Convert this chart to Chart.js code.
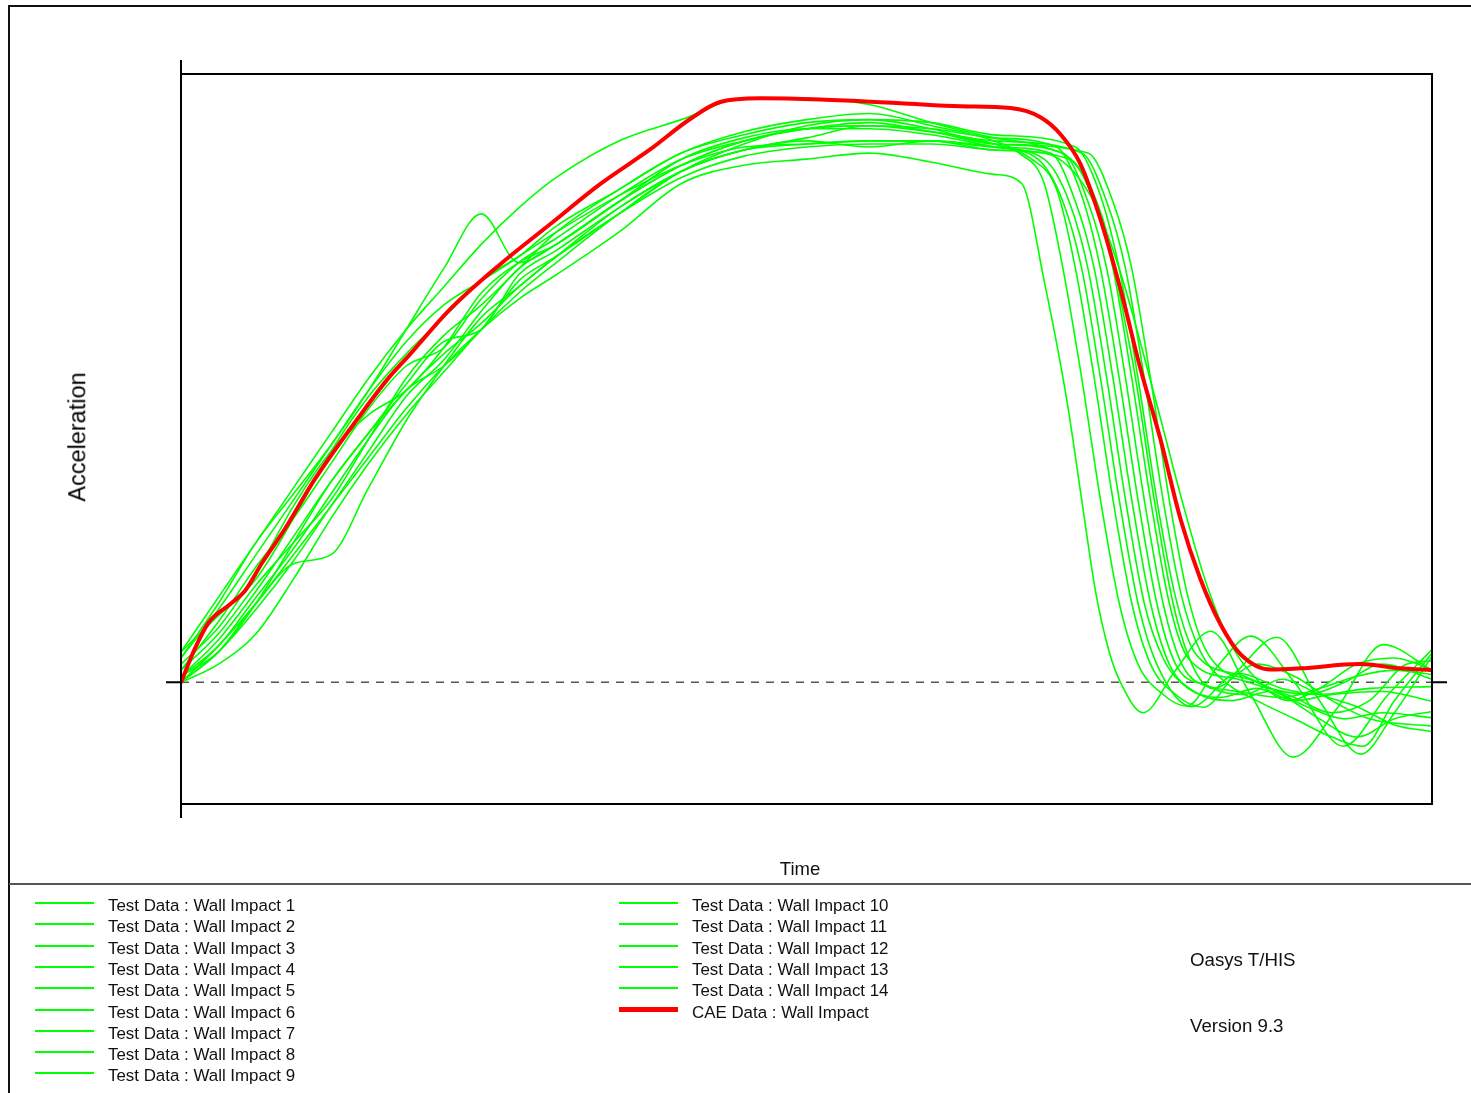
<!DOCTYPE html>
<html>
<head>
<meta charset="utf-8">
<title>Wall Impact - Acceleration vs Time</title>
<script src="https://cdn.jsdelivr.net/npm/chart.js@4.4.1/dist/chart.umd.min.js"></script>
<style>
    body {
        margin: 0;
        background: #fff;
        width: 1471px;
        height: 1093px;
        position: relative;
        overflow: hidden;
        font-family: "Liberation Sans", Arial, sans-serif;
        color: #111;
    }
    #pageFrame {
        position: absolute;
        left: 8px;
        top: 5px;
        width: 1480px;
        height: 1100px;
        border-top: 2px solid #111;
        border-left: 2px solid #111;
    }
    #separator {
        position: absolute;
        left: 9px;
        top: 883px;
        width: 1470px;
        border-top: 2px solid #555;
    }
    #chart {
        position: absolute;
        left: 0;
        top: 0;
    }
    .axis-title {
        position: absolute;
        white-space: nowrap;
        line-height: 1;
    }
    #yTitle {
        left: 78px;
        top: 437px;
        font-size: 23.5px;
        color: #000;
        transform: translate(-50%, -50%) rotate(-90deg);
    }
    #xTitle {
        left: 800px;
        top: 869px;
        font-size: 18.5px;
        transform: translate(-50%, -50%);
    }
    .legend-row {
        position: absolute;
        height: 20px;
        font-size: 16.9px;
        line-height: 20px;
        white-space: nowrap;
    }
    .legend-row .swatch {
        position: absolute;
        left: 0;
        width: 59px;
    }
    .legend-row .label {
        position: absolute;
    }
    .note {
        position: absolute;
        font-size: 18.7px;
        line-height: 20px;
        white-space: nowrap;
    }
</style>
</head>
<body>
<div id="pageFrame"></div>
<div id="separator"></div>
<canvas id="chart" width="1471" height="1093"></canvas>
<div class="axis-title" id="yTitle">Acceleration</div>
<div class="axis-title" id="xTitle">Time</div>
<div id="legend"></div>
<div class="note" style="left:1190px; top:950px;">Oasys T/HIS</div>
<div class="note" style="left:1190px; top:1016px;">Version 9.3</div>

<script>
// ---- data ----
// time axis runs 0..100, acceleration -20..100 (no tick labels in the original)

// shared time points for the rising part of the test curves
const riseTime = [0, 3, 6, 9, 12, 15, 18, 21, 24, 27, 30, 35, 40, 45, 50, 55, 60, 65];

const impact1Rise = [5, 14, 23, 32, 41, 50, 58, 65, 72, 78, 83, 89, 92.5, 96, 96, 95, 92, 89.5];
const impact1Fall = [[69, 88], [72, 84], [74, 74], [75.2, 62], [76.3, 50], [77.8, 30], [79.3, 13], [80.8, 3], [82.5, -1], [86, 3], [89, 1], [92, -3], [95, -6], [100, -7.2]];

const impact2Rise = [4, 12, 21, 30, 39, 48, 56, 62, 66, 70, 75, 81, 87, 90.5, 92.5, 93.5, 91.5, 89];
const impact2Fall = [[67, 87], [69, 82], [70.5, 68], [72, 50], [73.5, 30], [75, 13], [76.5, 3], [78.5, -2], [80.4, -3.9], [83, 3], [85.5, 7.6], [89, 0], [92.9, -10.5], [96.5, -2], [100, 5.4]];

const impact3Rise = [2, 10, 19, 27, 36, 45, 52, 55, 63, 69, 73, 80, 86, 89, 91, 92, 90.5, 88.5];
const impact3Fall = [[68, 86], [70, 81], [71.5, 68], [73, 50], [74.5, 30], [76, 13], [77.5, 3], [79.5, -2], [81.7, -4.1], [84.5, 2], [87.6, 7.4], [91, -3], [94.3, -11.8], [97, -5], [100, 4.3]];

const impact4Rise = [5, 11, 17, 27, 38, 47, 54, 60, 66, 70, 74, 80, 85, 88, 88.5, 89, 89, 88];
const impact4Fall = [[69, 86], [71, 79], [72.5, 68], [74, 50], [75.5, 30], [77, 13], [78.5, 4], [80.5, -1], [83, -2.5], [86, -1], [89, -3], [92, -2], [96, -1.5], [100, -3.1]];

const impact5Rise = [1, 7, 15, 24, 33, 41, 49, 56, 58, 67, 71, 78, 84, 87.5, 89, 88, 89, 88];
const impact5Fall = [[69.5, 87], [71.5, 79], [73, 68], [74.5, 50], [76, 30], [77.5, 13], [79, 3], [81, -1.5], [84, -3], [87, -1.5], [90, -4], [93, -6], [96, -5], [100, -5.8]];

const impact6Rise = [0, 5, 12, 20, 29, 38, 47, 53, 61, 68, 72, 79, 85, 89, 91, 91.5, 91, 89.5];
const impact6Fall = [[70, 88], [72, 80], [73.5, 68], [75, 50], [76.5, 30], [78, 13], [79.5, 3], [82, -0.5], [84.5, -1.5], [88, -2.5], [91, -1], [94, 1], [97, 2], [100, 1.3]];

const impact7Rise = [3, 9, 18, 29, 38, 44, 48, 55, 64, 69, 72, 79, 86, 89.5, 91, 91, 90, 88];
const impact7Fall = [[68.5, 86], [70.5, 79], [72, 68], [73.5, 50], [75, 30], [76.5, 13], [78, 3], [80.8, -4], [84.5, 1.5], [88, -1], [91, -2], [95, -1], [100, -0.7]];

const impact8Rise = [1, 6, 14, 22, 31, 40, 48, 52, 58, 66, 70, 77, 84, 88.5, 91.5, 92.5, 91, 88.5];
const impact8Fall = [[70.5, 87], [72.5, 79], [74, 68], [75.5, 50], [77, 30], [78.5, 13], [80, 3], [82.5, -1], [85, -2], [88, 0.5], [91, -2], [94, -4], [97, -7], [100, -8.1]];

const impact9Rise = [0, 5, 13, 19.5, 21, 32, 43, 52, 60, 65, 70, 77, 83, 86.5, 88, 88.5, 88.5, 87.5];
const impact9Fall = [[71, 86], [73, 79], [74.5, 68], [76, 50], [77.5, 30], [79, 13], [80.5, 4], [84.5, 0.5], [87, -1], [90, -2], [93, 0], [96, 3], [100, 0.5]];

const impact10Rise = [2, 8, 16, 23, 30, 40, 50, 57, 62, 68, 74, 81, 87, 90, 92, 92.5, 92, 90];
const impact10Fall = [[71.5, 88], [73.5, 80], [75, 68], [76.5, 50], [78, 30], [79.5, 14], [81, 5], [85, 1], [88, -2], [91, -6], [94, -9], [97, -6], [100, -4.8]];

const impact11Rise = [0, 3, 8, 17, 27, 36, 44, 51, 58, 64, 69, 77, 84, 87.5, 89.5, 91.5, 90.5, 89];
const impact11Fall = [[72, 87], [74, 79], [75.5, 68], [77, 50], [78.5, 30], [80, 14], [81.5, 5], [83.5, 0], [86, -3], [89, -6], [92, -9], [94.5, -10.5], [97, -3], [100, 4.8]];

const impact12Rise = [4, 13, 23, 31, 39, 48, 58, 68, 77, 69, 72, 79, 85, 89, 91, 91.5, 90.5, 88.5];
const impact12Fall = [[72.5, 87], [74.5, 79], [76, 68], [77.5, 50], [79, 30], [80.5, 14], [82, 5], [86, 0], [89, -2.5], [92, -5], [95, -3], [98, 3], [100, 3.5]];

const impact13Rise = [1, 5, 13, 23, 33, 41, 48, 54, 59, 65, 70, 78, 84, 87.5, 88.5, 89, 89, 87.5];
const impact13Fall = [[69, 87], [72.7, 80], [75, 68], [77.9, 46.5], [80, 30], [82, 16], [84, 6], [86, 0.5], [88.5, -3], [91, -1], [94, 3], [97, 4], [100, 2.1]];

const impact14Rise = [0, 6, 13, 21, 29, 37, 45, 52, 58, 63, 67, 74, 82, 85, 86, 87, 85.5, 83.5];
const impact14Fall = [[67.2, 82], [69, 66], [70.8, 46.5], [72, 30], [73.1, 15], [74.2, 5], [75.1, 0], [76.9, -5], [79.5, 2], [82.3, 8.4], [85.5, -2], [88.9, -12.3], [92.5, -4], [96.1, 6.2], [100, 2]];

const testRises = [impact1Rise, impact2Rise, impact3Rise, impact4Rise, impact5Rise, impact6Rise, impact7Rise,
    impact8Rise, impact9Rise, impact10Rise, impact11Rise, impact12Rise, impact13Rise, impact14Rise];
const testFalls = [impact1Fall, impact2Fall, impact3Fall, impact4Fall, impact5Fall, impact6Fall, impact7Fall,
    impact8Fall, impact9Fall, impact10Fall, impact11Fall, impact12Fall, impact13Fall, impact14Fall];

// CAE (simulation) curve, [time, acceleration]
const caeImpact = [[0, 0], [1.1, 5.5], [2.2, 9.8], [3.9, 12.8], [5.1, 15], [6.5, 19.7], [8.3, 25.2], [10.7, 33.4],
    [14.5, 44.4], [16.5, 49.8], [18.3, 53.9], [21.5, 61.3], [25.5, 68.7], [29.5, 75.3], [33.5, 81.9],
    [37.5, 87.6], [40.7, 92.6], [43.1, 95.4], [46.3, 96], [51.1, 95.8], [57.5, 95.2], [62.3, 94.7],
    [66.3, 94.4], [68.7, 92.9], [70.3, 90.1], [71.9, 85.2], [73.5, 76.1], [75.1, 64.6], [76.7, 51.5],
    [78.3, 39.9], [79.9, 26.8], [81.5, 16.9], [83.1, 9.5], [84.7, 4.6], [87.1, 2.1], [89.5, 2.3],
    [94.2, 3.0], [97.4, 2.3], [100, 2.0]];

const testNames = testRises.map((_, i) => `Test Data : Wall Impact ${i + 1}`);
const caeName = 'CAE Data : Wall Impact';

const testColor = '#00ff00';
const caeColor = '#ff0000';

// ---- build datasets ----
function toPoints(pairs) {
    return pairs.map(p => ({ x: p[0], y: p[1] }));
}

const datasets = testRises.map((rise, i) => ({
    label: testNames[i],
    data: toPoints(riseTime.map((t, j) => [t, rise[j]]).concat(testFalls[i])),
    borderColor: testColor,
    borderWidth: 1.6,
    order: 1
}));

datasets.push({
    label: caeName,
    data: toPoints(caeImpact),
    borderColor: caeColor,
    borderWidth: 4,
    order: 0
});

// frame, zero line and axis stubs like the T/HIS plot
const framePlugin = {
    id: 'thisFrame',
    beforeDatasetsDraw(chart) {
        const { ctx, chartArea: a, scales } = chart;
        const y0 = scales.y.getPixelForValue(0);
        ctx.save();
        ctx.strokeStyle = '#555';
        ctx.lineWidth = 1.5;
        ctx.setLineDash([8, 7]);
        ctx.beginPath();
        ctx.moveTo(a.left, y0);
        ctx.lineTo(a.right, y0);
        ctx.stroke();
        ctx.restore();
    },
    afterDatasetsDraw(chart) {
        const { ctx, chartArea: a, scales } = chart;
        const y0 = scales.y.getPixelForValue(0);
        ctx.save();
        ctx.strokeStyle = '#000';
        ctx.lineWidth = 2;
        ctx.beginPath();
        // box
        ctx.moveTo(a.left, a.top);
        ctx.lineTo(a.right, a.top);
        ctx.lineTo(a.right, a.bottom);
        ctx.lineTo(a.left, a.bottom);
        // y axis runs a little past the box
        ctx.moveTo(a.left, a.top - 14);
        ctx.lineTo(a.left, a.bottom + 14);
        // zero ticks
        ctx.moveTo(a.left - 15, y0);
        ctx.lineTo(a.left, y0);
        ctx.moveTo(a.right, y0);
        ctx.lineTo(a.right + 15, y0);
        ctx.stroke();
        ctx.restore();
    }
};

new Chart(document.getElementById('chart').getContext('2d'), {
    type: 'line',
    data: { datasets: datasets },
    options: {
        responsive: false,
        animation: false,
        events: [],
        layout: { padding: { left: 181, top: 74, right: 39, bottom: 289 } },
        elements: {
            point: { radius: 0 },
            line: { cubicInterpolationMode: 'monotone', fill: false, borderCapStyle: 'round', borderJoinStyle: 'round' }
        },
        plugins: {
            legend: { display: false },
            tooltip: { enabled: false }
        },
        scales: {
            x: { type: 'linear', min: 0, max: 100, display: false },
            y: { type: 'linear', min: -20, max: 100, display: false }
        }
    },
    plugins: [framePlugin]
});

// ---- legend below the separator ----
const legend = document.getElementById('legend');
const rowTop = 896;
const rowStep = 21.3;

function addLegendRow(name, color, thick, col, row) {
    const div = document.createElement('div');
    div.className = 'legend-row';
    div.style.left = (col === 0 ? 35 : 619) + 'px';
    div.style.top = (rowTop + row * rowStep) + 'px';
    const swatch = document.createElement('span');
    swatch.className = 'swatch';
    swatch.style.top = (7 - thick / 2) + 'px';
    swatch.style.height = thick + 'px';
    swatch.style.background = color;
    const label = document.createElement('span');
    label.className = 'label';
    label.style.left = '73px';
    label.textContent = name;
    div.appendChild(swatch);
    div.appendChild(label);
    legend.appendChild(div);
}

testNames.forEach((name, i) => {
    if (i < 9) addLegendRow(name, testColor, 2, 0, i);
    else addLegendRow(name, testColor, 2, 1, i - 9);
});
addLegendRow(caeName, caeColor, 5, 1, 5);
</script>
</body>
</html>
